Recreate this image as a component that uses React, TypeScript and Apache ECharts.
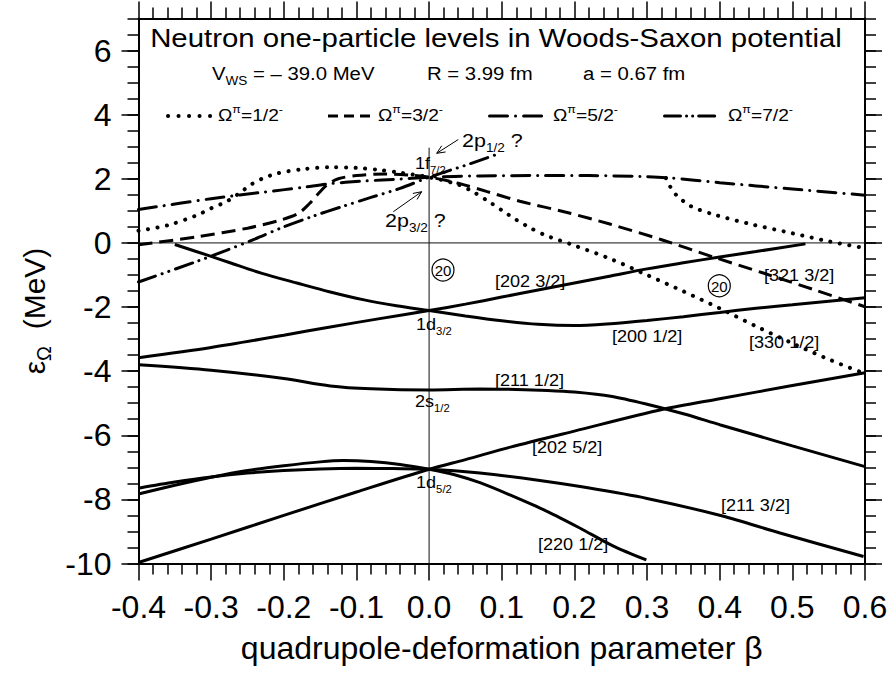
import React, { useEffect, useRef } from "react";
import * as echarts from "echarts";

// ---------------- data: [beta, energy (MeV)] ----------------
// positive-parity (solid) levels
const posD32Omega12 = [[-0.35,-0.05],[-0.3,-0.42],[-0.274,-0.62],[-0.23,-0.95],[-0.182,-1.25],[-0.136,-1.53],[-0.091,-1.77],[-0.045,-1.96],[0,-2.11],[0.05,-2.28],[0.1,-2.43],[0.15,-2.54],[0.2,-2.58],[0.25,-2.52],[0.3,-2.42],[0.35,-2.3],[0.4,-2.17],[0.45,-2.04],[0.5,-1.93],[0.55,-1.82],[0.6,-1.71]];
const posD32Omega32 = [[-0.4,-3.58],[-0.3,-3.26],[-0.2,-2.88],[-0.136,-2.62],[-0.07,-2.37],[0,-2.11],[0.05,-1.91],[0.1,-1.69],[0.15,-1.47],[0.2,-1.25],[0.25,-1.03],[0.3,-0.81],[0.35,-0.62],[0.4,-0.44],[0.45,-0.27],[0.518,-0.03]];
const posS12Omega12 = [[-0.4,-3.8],[-0.3,-3.97],[-0.2,-4.23],[-0.136,-4.46],[-0.08,-4.55],[0,-4.59],[0.07,-4.56],[0.12,-4.57],[0.163,-4.6],[0.2,-4.65],[0.25,-4.78],[0.3,-5.03],[0.35,-5.33],[0.4,-5.67],[0.45,-6.0],[0.5,-6.33],[0.6,-6.98]];
const posD52Omega52 = [[-0.4,-9.97],[-0.3,-9.24],[-0.2,-8.5],[-0.1,-7.77],[0,-7.06],[0.05,-6.76],[0.112,-6.37],[0.2,-5.87],[0.322,-5.19],[0.4,-4.86],[0.5,-4.45],[0.6,-4.05]];
const posD52Omega12 = [[-0.4,-7.83],[-0.35,-7.56],[-0.3,-7.31],[-0.25,-7.1],[-0.2,-6.95],[-0.15,-6.83],[-0.118,-6.79],[-0.08,-6.82],[-0.04,-6.91],[0,-7.06],[0.035,-7.23],[0.07,-7.48],[0.112,-7.87],[0.163,-8.38],[0.208,-8.9],[0.253,-9.45],[0.299,-9.89]];
const posD52Omega32 = [[-0.4,-7.65],[-0.35,-7.46],[-0.3,-7.3],[-0.25,-7.18],[-0.2,-7.1],[-0.15,-7.05],[-0.1,-7.03],[-0.05,-7.04],[0,-7.06],[0.07,-7.18],[0.15,-7.4],[0.208,-7.6],[0.3,-7.97],[0.404,-8.52],[0.483,-9.05],[0.598,-9.78]];

// negative-parity levels
const negOmega12a = [[-0.4,0.38],[-0.36,0.55],[-0.32,0.86],[-0.3,1.08],[-0.278,1.3],[-0.26,1.57],[-0.245,1.82],[-0.23,2.0],[-0.209,2.17],[-0.174,2.3],[-0.136,2.36],[-0.1,2.34],[-0.07,2.28],[-0.04,2.19],[0,2.05],[0.04,1.82],[0.06,1.6],[0.08,1.32],[0.1,1.02],[0.12,0.72],[0.14,0.46],[0.16,0.24],[0.2,-0.08],[0.25,-0.5],[0.3,-1.0],[0.35,-1.51],[0.4,-2.04],[0.45,-2.6],[0.5,-3.13],[0.55,-3.63],[0.6,-4.08]];
const negOmega12b = [[0.326,2.02],[0.332,1.75],[0.34,1.5],[0.36,1.15],[0.39,0.9],[0.44,0.6],[0.5,0.3],[0.55,0.05],[0.6,-0.16]];
const negOmega32 = [[-0.4,-0.06],[-0.32,0.19],[-0.25,0.46],[-0.205,0.71],[-0.18,0.92],[-0.165,1.22],[-0.152,1.55],[-0.14,1.82],[-0.125,2.0],[-0.1,2.1],[-0.06,2.15],[-0.03,2.12],[0,2.05],[0.04,1.86],[0.08,1.6],[0.125,1.3],[0.19,0.95],[0.25,0.58],[0.32,0.1],[0.39,-0.43],[0.46,-0.94],[0.53,-1.46],[0.6,-1.99]];
const negOmega52 = [[-0.4,1.04],[-0.3,1.38],[-0.229,1.58],[-0.174,1.73],[-0.14,1.84],[-0.09,1.93],[-0.04,1.99],[0,2.05],[0.07,2.09],[0.15,2.1],[0.22,2.1],[0.29,2.07],[0.33,2.03],[0.4,1.88],[0.5,1.68],[0.6,1.49]];
const negOmega72 = [[-0.4,-1.22],[-0.32,-0.58],[-0.28,-0.24],[-0.24,0.12],[-0.2,0.5],[-0.16,0.83],[-0.12,1.13],[-0.08,1.42],[-0.04,1.7],[0,2.05],[0.05,2.42],[0.098,2.8]];

// reference lines
const zeroEnergyLine = [[-0.4,0],[0.6,0]];
const sphericalLine = [[0,-10],[0,2.97]];

// axes
const xRange = [-0.4, 0.6];
const yRange = [-10, 7];
const yMajorTicks = [-10,-8,-6,-4,-2,0,2,4,6];

// texts
const titleText = "Neutron one-particle levels in Woods-Saxon potential";
const paramTexts = ["V{sub|WS} = \u2013 39.0 MeV", "R = 3.99 fm", "a = 0.67 fm"];
const legendOmegas = ["1/2", "3/2", "5/2", "7/2"];
const nilssonLabels = ["[202 3/2]","[200 1/2]","[330 1/2]","[321 3/2]","[211 1/2]","[202 5/2]","[211 3/2]","[220 1/2]"];
const sphericalLabels = ["1f{sub|7/2}","1d{sub|3/2}","2s{sub|1/2}","1d{sub|5/2}"];

// ---------------- layout (pixels) ----------------
const FONT = "'Liberation Sans', Arial, Helvetica, sans-serif";
const SX = 1.13;
const GRID = { left: 138.5, right: 26, top: 18.5, bottom: 115.5 };
const nilssonPos = [[495,282],[612,337],[749,343],[764,276],[495,381],[532,448],[721,506],[538,545]];
const sphericalPos = [[415,164],[416,325],[415,402],[416,483]];
const paramPos = [212, 427, 583];
const legendSampleX = [[168,210.2],[328,370],[489.5,543.5],[664.5,717]];
const legendTextX = [218, 378, 553, 728];
const legendDash = [[0.1,10.4],[10,6],[18,8,0.1,8],[16,6,0.1,6,0.1,6]];

function label(x: number, y: number, text: string, size: number, align = "left") {
  const sub = Math.round(size * 0.65);
  return {
    type: "text", x, y, scaleX: SX, silent: true, z: 50,
    style: {
      text, x: 0, y: 0, fontSize: size, fontFamily: FONT, fill: "#000",
      align, verticalAlign: "middle", textAlign: align, textVerticalAlign: "middle",
      lineHeight: Math.round(size * 1.4),
      rich: {
        sub: { fontSize: sub, lineHeight: sub, verticalAlign: "bottom", fontFamily: FONT, fill: "#000" },
        sup: { fontSize: sub, lineHeight: sub, verticalAlign: "top", fontFamily: FONT, fill: "#000" },
      },
    },
  };
}

function arrow(x1: number, y1: number, x2: number, y2: number) {
  const dx = x2 - x1, dy = y2 - y1;
  const L = Math.hypot(dx, dy);
  const ux = dx / L, uy = dy / L;
  const w = 9, a = (24 * Math.PI) / 180;
  const rot = (s: number) => [
    x2 - w * (ux * Math.cos(s * a) - uy * Math.sin(s * a)),
    y2 - w * (ux * Math.sin(s * a) + uy * Math.cos(s * a)),
  ];
  return [
    { type: "line", silent: true, z: 50, shape: { x1, y1, x2, y2 }, style: { stroke: "#000", lineWidth: 1 } },
    { type: "polyline", silent: true, z: 50, shape: { points: [rot(1), [x2, y2], rot(-1)] }, style: { stroke: "#000", lineWidth: 1, fill: "none" } },
  ];
}

function circled(cx: number, cy: number) {
  return [
    { type: "circle", silent: true, z: 50, shape: { cx, cy, r: 11 }, style: { fill: "none", stroke: "#000", lineWidth: 1.2 } },
    { type: "text", silent: true, z: 50, x: cx, y: cy + 0.5, style: { text: "20", x: 0, y: 0, fontSize: 15, fontFamily: FONT, fill: "#000", align: "center", verticalAlign: "middle", textAlign: "center", textVerticalAlign: "middle" } },
  ];
}

const DOT = { color: "#000", width: 4, type: [0.1, 9.5], cap: "round" };
const DASH = { color: "#000", width: 3, type: [14, 7], cap: "butt" };
const DASHDOT = { color: "#000", width: 3, type: [18, 8, 0.1, 8], cap: "round" };
const DASHDOTDOT = { color: "#000", width: 3, type: [18, 7, 0.1, 7, 0.1, 7], cap: "round" };
const SOLID = { color: "#000", width: 3, type: "solid" };
const THIN = { color: "#111", width: 1, type: "solid" };

function line(name: string, data: number[][], lineStyle: any, z = 3, smooth: any = 0.3) {
  return { type: "line", name, data, symbol: "none", showSymbol: false, smooth, silent: true, lineStyle, z, clip: true };
}

export default function App() {
  const ref = useRef<HTMLDivElement>(null);
  useEffect(() => {
    document.body.style.margin = "0";
    const chart = echarts.init(ref.current!, null, { renderer: "svg" });

    const frameLine = { show: true, onZero: false, lineStyle: { color: "#000", width: 2 } };
    const hiddenLine = { show: false, onZero: false };
    const majorTick = { show: true, length: 17, lineStyle: { color: "#000", width: 1.5 } };
    const minorTickAsMajor = { show: true, length: 11, lineStyle: { color: "#000", width: 1.5 } };

    const graphic: any[] = [];
    graphic.push(label(496, 38, titleText, 26, "center"));
    paramTexts.forEach((t, i) => graphic.push(label(paramPos[i], 74, t, 18)));
    legendOmegas.forEach((o, i) => {
      const [a, b] = legendSampleX[i];
      graphic.push({
        type: "line", silent: true, z: 50, shape: { x1: a, y1: 116, x2: b, y2: 116 },
        style: { stroke: "#000", lineWidth: i === 0 ? 4 : 3, lineDash: legendDash[i], lineCap: i === 1 ? "butt" : "round" },
      });
      graphic.push(label(legendTextX[i], 115, "\u03A9{sup|\u03C0}=" + o + "{sup|-}", 17));
    });
    nilssonLabels.forEach((t, i) => graphic.push(label(nilssonPos[i][0], nilssonPos[i][1], t, 16)));
    sphericalLabels.forEach((t, i) => graphic.push(label(sphericalPos[i][0], sphericalPos[i][1], t, 16)));
    graphic.push(label(462, 140, "2p{sub|1/2} ?", 19));
    graphic.push(label(385, 220, "2p{sub|3/2} ?", 19));
    graphic.push(...arrow(458.3, 139.5, 436.7, 153.3));
    graphic.push(...arrow(393.3, 211.7, 421.7, 191.7));
    graphic.push(...circled(443, 270));
    graphic.push(...circled(719.3, 285.7));

    chart.setOption({
      animation: false,
      backgroundColor: "#fff",
      grid: { ...GRID, containLabel: false },
      xAxis: [
        {
          type: "value", position: "bottom", min: xRange[0], max: xRange[1], interval: 0.1,
          axisLine: frameLine, splitLine: { show: false },
          axisTick: majorTick,
          minorTick: { show: true, splitNumber: 5, length: 11, lineStyle: { color: "#000", width: 1.5 } },
          axisLabel: {
            fontSize: 32, fontFamily: FONT, color: "#000", margin: 27,
            formatter: (v: number) => (Math.abs(v) < 1e-9 ? "0.0" : v.toFixed(1)),
          },
          name: "quadrupole-deformation parameter \u03B2", nameLocation: "middle", nameGap: 68,
          nameTextStyle: { fontSize: 32, fontFamily: FONT, color: "#000" },
        },
        {
          type: "value", position: "top", min: xRange[0], max: xRange[1], interval: 0.1,
          axisLine: frameLine, splitLine: { show: false },
          axisTick: majorTick,
          minorTick: { show: true, splitNumber: 5, length: 11, lineStyle: { color: "#000", width: 1.5 } },
          axisLabel: { show: false },
        },
      ],
      yAxis: [
        {
          type: "value", position: "left", min: yRange[0], max: yRange[1], interval: 2,
          axisLine: frameLine, splitLine: { show: false },
          axisTick: { ...majorTick, customValues: yMajorTicks },
          axisLabel: {
            fontSize: 32, fontFamily: FONT, color: "#000", margin: 27, customValues: yMajorTicks,
            formatter: (v: number) => (v > 6.5 ? "" : String(v)),
          },
          name: "\u03B5{s|\u03A9}  (MeV)", nameLocation: "middle", nameGap: 84, nameRotate: 90,
          nameTextStyle: {
            fontSize: 30, fontFamily: FONT, color: "#000", lineHeight: 40, padding: [0, 40, 0, 0],
            rich: { s: { fontSize: 20, lineHeight: 20, verticalAlign: "bottom", fontFamily: FONT, color: "#000" } },
          },
        },
        {
          type: "value", position: "left", min: yRange[0], max: yRange[1], interval: 0.5,
          axisLine: hiddenLine, splitLine: { show: false },
          axisTick: minorTickAsMajor, axisLabel: { show: false },
        },
        {
          type: "value", position: "right", min: yRange[0], max: yRange[1], interval: 2,
          axisLine: frameLine, splitLine: { show: false },
          axisTick: { ...majorTick, customValues: yMajorTicks },
          axisLabel: { show: false },
        },
        {
          type: "value", position: "right", min: yRange[0], max: yRange[1], interval: 0.5,
          axisLine: hiddenLine, splitLine: { show: false },
          axisTick: minorTickAsMajor, axisLabel: { show: false },
        },
      ],
      series: [
        line("E=0", zeroEnergyLine, THIN, 1, false),
        line("beta=0", sphericalLine, THIN, 1, false),
        line("1d3/2 Ω=1/2 [200 1/2]", posD32Omega12, SOLID),
        line("1d3/2 Ω=3/2 [202 3/2]", posD32Omega32, SOLID),
        line("2s1/2 Ω=1/2 [211 1/2]", posS12Omega12, SOLID),
        line("1d5/2 Ω=5/2 [202 5/2]", posD52Omega52, SOLID),
        line("1d5/2 Ω=1/2 [220 1/2]", posD52Omega12, SOLID),
        line("1d5/2 Ω=3/2 [211 3/2]", posD52Omega32, SOLID),
        line("Ω=1/2- (a)", negOmega12a, DOT, 4),
        line("Ω=1/2- (b)", negOmega12b, DOT, 4),
        line("Ω=3/2-", negOmega32, DASH, 4),
        line("Ω=5/2-", negOmega52, DASHDOT, 4),
        line("Ω=7/2-", negOmega72, DASHDOTDOT, 4),
      ],
      graphic,
    });
    return () => chart.dispose();
  }, []);
  return <div ref={ref} style={{ width: 891, height: 679 }} />;
}
